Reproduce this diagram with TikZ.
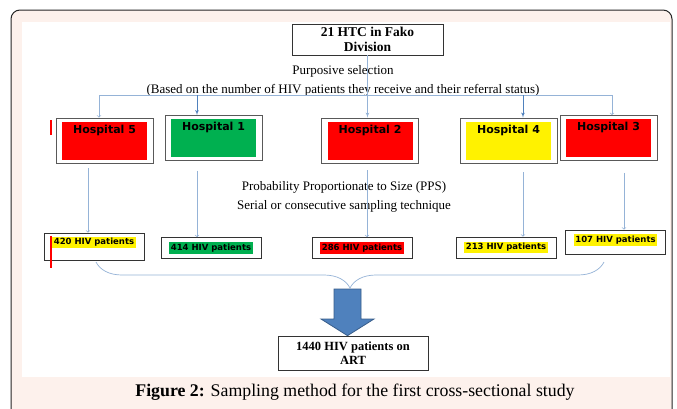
\documentclass[tikz,border=0pt]{standalone}
\usepackage{fontspec}
\setmainfont{Liberation Serif}
\newfontfamily\hospfont{DejaVu Sans}
\usetikzlibrary{arrows,decorations.pathreplacing}
\definecolor{pinkbg}{HTML}{FDF1EC}
\definecolor{linecol}{HTML}{95B3D7}
\definecolor{tipcol}{HTML}{4F81BD}
\definecolor{arrowedge}{HTML}{385D8A}
\definecolor{hgreen}{HTML}{00B050}

\begin{document}
\begin{tikzpicture}[x=1pt,y=-1pt,>=to,thick,
 outer/.style={draw=black!65,fill=white,line width=0.8pt,minimum width=97pt,minimum height=45pt,inner sep=0pt},
 inner/.style={minimum width=85pt,minimum height=38pt,inner sep=0pt},
 hlabel/.style={font=\hospfont\bfseries\fontsize{11}{13}\selectfont,anchor=north,inner sep=1pt,yshift=-2.5pt},
 pbox/.style={draw=black!80,fill=white,line width=0.7pt,minimum width=100pt,minimum height=21pt,inner sep=0pt},
 ptext/.style={font=\hospfont\bfseries\fontsize{8.5}{10}\selectfont,inner sep=1.5pt},
 note/.style={font=\fontsize{13}{15}\selectfont,inner sep=0pt},
 flow/.style={draw=linecol,line width=0.7pt}]
 \useasboundingbox (0,0) rectangle (677,408);

 % frame and panel
 \draw[rounded corners=9pt,fill=pinkbg,draw=black!85,line width=1pt] (11,10) rectangle (672,430);
 \fill[white] (22,22) rectangle (670,377);

 % top box and notes
 \node[draw=black!80,line width=0.7pt,minimum width=151pt,minimum height=31pt,align=center,
 font=\bfseries\fontsize{13.5}{14.5}\selectfont,inner sep=0pt] (top) at (367.5,39.5) {21 HTC in Fako\\Division};
 \node[note] (purp) at (343,71) {Purposive selection};
 \node[note] (based) at (343,90) {(Based on the number of HIV patients they receive and their referral status)};

 % 5 hospitals
 \node[outer] (h5) at (104.5,140.5) {};
 \node[inner,fill=red] (in5) at (h5) {};
 \node[hlabel] (t5) at (in5.north) {Hospital 5};
 \node[outer] (h1) at (213.5,138) {};
 \node[inner,fill=hgreen] (in1) at (h1) {};
 \node[hlabel] (t1) at (in1.north) {Hospital 1};
 \node[outer] (h2) at (370,140.5) {};
 \node[inner,fill=red] (in2) at (h2) {};
 \node[hlabel] (t2) at (in2.north) {Hospital 2};
 \node[outer] (h4) at (508.5,140.5) {};
 \node[inner,fill=yellow] (in4) at (h4) {};
 \node[hlabel] (t4) at (in4.north) {Hospital 4};
 \node[outer] (h3) at (608.5,138) {};
 \node[inner,fill=red] (in3) at (h3) {};
 \node[hlabel] (t3) at (in3.north) {Hospital 3};

 \node[note] (pps) at (344,187) {Probability Proportionate to Size (PPS)};
 \node[note] (serial) at (344,206) {Serial or consecutive sampling technique};

 % patients per hospital
 \node[pbox,minimum height=27pt] (p420) at (94,246.5) {};
 \node[ptext,fill=yellow] (n420) at (94,242.5) {420 HIV patients};
 \node[pbox] (p414) at (211,248) {};
 \node[ptext,fill=hgreen] (n414) at (p414) {414 HIV patients};
 \node[pbox] (p286) at (362,248) {};
 \node[ptext,fill=red] (n286) at (p286) {286 HIV patients};
 \node[pbox] (p213) at (506,247.5) {};
 \node[ptext,fill=yellow] (n213) at (p213) {213 HIV patients};
 \node[pbox,minimum height=24pt] (p107) at (615.5,242) {};
 \node[ptext,fill=yellow] (n107) at (615.5,240) {107 HIV patients};

 % stray red marks
 \draw[red,line width=1.2pt] (51,120) -- (51,135);
 \draw[red,line width=1.2pt] (51,236) -- (51,268);

 % selection lines
 \coordinate (bl) at (99,95);
 \coordinate (br) at (612,95);
 \draw[flow] (bl) -- (br);
 \draw[flow,->] (bl) -- (bl |- h5.north);
 \draw[flow,-latex',draw=tipcol] (bl -| 197,0) -- (h1.north -| 197,0);
 \draw[flow,-latex',draw=tipcol] (bl -| 523,0) -- (h4.north -| 523,0);
 \draw[flow,->] (br) -- (br |- h3.north);
 \draw[flow,-latex'] (top.south) -- (top.south |- h2.north);

 % sampling lines
 \draw[flow,->] ([yshift=-5pt]h5.south -| 88,0) -- (p420.north -| 88,0);
 \draw[flow,->] ([yshift=-10pt]h1.south -| 197,0) -- (p414.north -| 197,0);
 \draw[flow,->] ([yshift=-7pt]h2.south -| 367,0) -- (p286.north -| 367,0);
 \draw[flow,->] ([yshift=-9pt]h4.south -| 523,0) -- (p213.north -| 523,0);
 \draw[flow,->] ([yshift=-12pt]h3.south -| 624,0) -- (p107.north -| 624,0);

 % brace, block arrow, total
 \draw[flow,decorate,decoration={brace,mirror,amplitude=26pt,aspect=0.5}] (96,262) -- (604,262);
 \node[draw=black!80,line width=0.7pt,minimum width=150pt,minimum height=34pt,align=center,
 font=\bfseries\fontsize{12.5}{13.5}\selectfont,inner sep=0pt] (total) at (353,353) {1440 HIV patients on\\ART};
 \filldraw[fill=tipcol,draw=arrowedge,line width=0.8pt] (334,289) -- (361,289) -- (361,319)
 -- (374,319) -- (total.north -| 347.5,0) -- (321,319) -- (334,319) -- cycle;

 % caption
 \node[font=\fontsize{17.8}{19}\selectfont] (cap) at (355,392) {\textbf{Figure 2:} Sampling method for the first cross-sectional study};
\end{tikzpicture}
\end{document}
